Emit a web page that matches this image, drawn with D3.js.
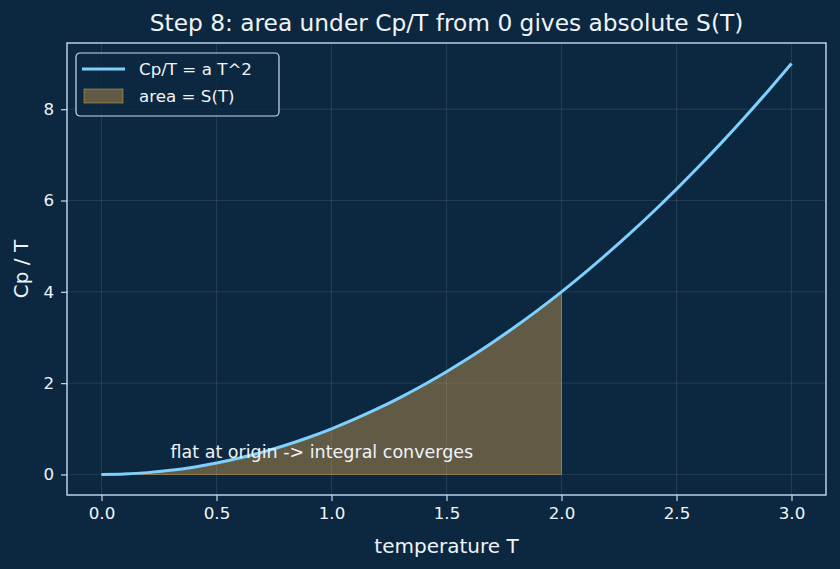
<!DOCTYPE html>
<html>
<head>
<meta charset="utf-8">
<script src="https://cdn.jsdelivr.net/npm/d3@7"></script>
<style>
  body { margin: 0; background: #0c2840; }
  svg { display: block; font-family: "DejaVu Sans", sans-serif; }
</style>
</head>
<body>
<div class="chart"></div>
<script>
// values
const temps = [0, 0.1, 0.2, 0.3, 0.4, 0.5, 0.6, 0.7, 0.8, 0.9, 1.0, 1.1, 1.2, 1.3, 1.4, 1.5,
  1.6, 1.7, 1.8, 1.9, 2.0, 2.1, 2.2, 2.3, 2.4, 2.5, 2.6, 2.7, 2.8, 2.9, 3.0];
const cpOverT = [0, 0.01, 0.04, 0.09, 0.16, 0.25, 0.36, 0.49, 0.64, 0.81, 1.0, 1.21, 1.44, 1.69, 1.96, 2.25,
  2.56, 2.89, 3.24, 3.61, 4.0, 4.41, 4.84, 5.29, 5.76, 6.25, 6.76, 7.29, 7.84, 8.41, 9.0];
const areaUpTo = 2.0;
const xTicks = [0, 0.5, 1.0, 1.5, 2.0, 2.5, 3.0];
const yTicks = [0, 2, 4, 6, 8];

const bg = '#0c2840';
const lineColor = '#7fcfff';
const fillColor = '#e0a850';
const axisColor = '#c6dcf0';
const textColor = '#f0f4f8';

const outerWidth = 840;
const outerHeight = 569;
const margin = {top: 43, right: 14, bottom: 74, left: 67};
const width = outerWidth - margin.left - margin.right;
const height = outerHeight - margin.top - margin.bottom;

const data = temps.map((t, i) => ({t: t, v: cpOverT[i]}));
const areaData = data.filter(d => d.t <= areaUpTo);

const svg = d3.select('.chart').append('svg')
    .attr('width', outerWidth)
    .attr('height', outerHeight)
    .style('background', bg);

const g = svg.append('g')
    .attr('transform', `translate(${margin.left}, ${margin.top})`);

// scales with matplotlib-like 5% padding
const xPad = 0.05 * 3;
const yPad = 0.05 * 9;
const x = d3.scaleLinear().domain([0 - xPad, 3 + xPad]).range([0, width]);
const y = d3.scaleLinear().domain([0 - yPad, 9 + yPad]).range([height, 0]);

// grid
g.append('g').selectAll('line').data(xTicks).join('line')
    .attr('x1', d => x(d)).attr('x2', d => x(d))
    .attr('y1', 0).attr('y2', height)
    .attr('stroke', '#ffffff').attr('stroke-opacity', 0.12).attr('stroke-width', 0.8);
g.append('g').selectAll('line').data(yTicks).join('line')
    .attr('y1', d => y(d)).attr('y2', d => y(d))
    .attr('x1', 0).attr('x2', width)
    .attr('stroke', '#ffffff').attr('stroke-opacity', 0.12).attr('stroke-width', 0.8);

// area
const area = d3.area()
    .x(d => x(d.t))
    .y0(y(0))
    .y1(d => y(d.v))
    .curve(d3.curveCatmullRom);
g.append('path')
    .datum(areaData)
    .attr('d', area)
    .attr('fill', fillColor)
    .attr('fill-opacity', 0.4)
    .attr('stroke', fillColor)
    .attr('stroke-opacity', 0.5)
    .attr('stroke-width', 1);

// curve
const line = d3.line()
    .x(d => x(d.t))
    .y(d => y(d.v))
    .curve(d3.curveCatmullRom);
g.append('path')
    .datum(data)
    .attr('d', line)
    .attr('fill', 'none')
    .attr('stroke', lineColor)
    .attr('stroke-width', 3);

// annotation
g.append('text')
    .attr('x', x(0.3))
    .attr('y', y(0.35))
    .attr('fill', textColor)
    .style('font-size', '17.5px')
    .text('flat at origin -> integral converges');

// axes
const xAxis = d3.axisBottom(x).tickValues(xTicks).tickFormat(d3.format('.1f')).tickSize(6).tickPadding(6);
const yAxis = d3.axisLeft(y).tickValues(yTicks).tickFormat(d3.format('d')).tickSize(6).tickPadding(7);

const gx = g.append('g').attr('transform', `translate(0, ${height})`).call(xAxis);
const gy = g.append('g').call(yAxis);
[gx, gy].forEach(a => {
    a.select('.domain').remove();
    a.selectAll('line').attr('stroke', axisColor).attr('stroke-width', 1.2);
    a.selectAll('text').attr('fill', textColor).style('font-size', '16.7px')
        .style('font-family', '"DejaVu Sans", sans-serif');
});

// frame
g.append('rect')
    .attr('width', width).attr('height', height)
    .attr('fill', 'none')
    .attr('stroke', axisColor)
    .attr('stroke-width', 1.4);

// labels
svg.append('text')
    .attr('x', margin.left + width / 2)
    .attr('y', 31)
    .attr('text-anchor', 'middle')
    .attr('fill', textColor)
    .style('font-size', '23.3px')
    .text('Step 8: area under Cp/T from 0 gives absolute S(T)');
svg.append('text')
    .attr('x', margin.left + width / 2)
    .attr('y', 553)
    .attr('text-anchor', 'middle')
    .attr('fill', textColor)
    .style('font-size', '20px')
    .text('temperature T');
svg.append('text')
    .attr('transform', `translate(28, ${margin.top + height / 2}) rotate(-90)`)
    .attr('text-anchor', 'middle')
    .attr('fill', textColor)
    .style('font-size', '20px')
    .text('Cp / T');

// legend
const legend = g.append('g').attr('transform', 'translate(9, 10)');
legend.append('rect')
    .attr('width', 203).attr('height', 63)
    .attr('rx', 4)
    .attr('fill', bg).attr('fill-opacity', 0.8)
    .attr('stroke', axisColor).attr('stroke-width', 1.2);
legend.append('line')
    .attr('x1', 6).attr('x2', 49).attr('y1', 16).attr('y2', 16)
    .attr('stroke', lineColor).attr('stroke-width', 3);
legend.append('rect')
    .attr('x', 8).attr('y', 36).attr('width', 39).attr('height', 14)
    .attr('fill', fillColor).attr('fill-opacity', 0.4)
    .attr('stroke', fillColor).attr('stroke-opacity', 0.5);
legend.append('text')
    .attr('x', 63).attr('y', 22)
    .attr('fill', textColor).style('font-size', '16.7px')
    .text('Cp/T = a T^2');
legend.append('text')
    .attr('x', 63).attr('y', 49)
    .attr('fill', textColor).style('font-size', '16.7px')
    .text('area = S(T)');
</script>
</body>
</html>
